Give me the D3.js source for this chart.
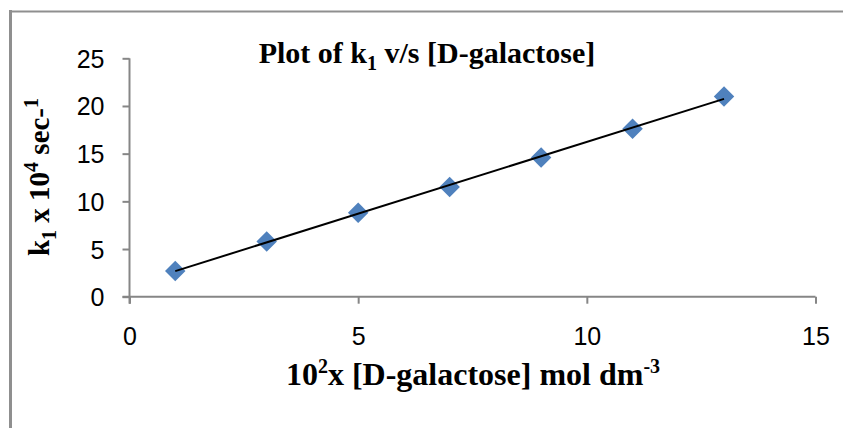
<!DOCTYPE html>
<html>
<head>
<meta charset="utf-8">
<script src="https://cdn.jsdelivr.net/npm/d3@7"></script>
<style>
  html, body { margin: 0; padding: 0; background: #fff; }
  svg { display: block; }
</style>
</head>
<body>
<svg id="chart" width="843" height="428"></svg>
<script>
const xValues = [1, 3, 5, 7, 9, 11, 13];
const yValues = [2.7, 5.8, 8.8, 11.5, 14.6, 17.6, 21.0];
const xTicks = [0, 5, 10, 15];
const yTicks = [0, 5, 10, 15, 20, 25];

const svg = d3.select("#chart");
const W = 843, H = 428;

// frame
svg.append("line").attr("x1", 10.5).attr("x2", 10.5).attr("y1", 10).attr("y2", H)
  .attr("stroke", "#8f8f8f").attr("stroke-width", 3);
svg.append("line").attr("x1", 9).attr("x2", W).attr("y1", 11.5).attr("y2", 11.5)
  .attr("stroke", "#8f8f8f").attr("stroke-width", 2);

const x = d3.scaleLinear().domain([0, 15]).range([129.5, 815.5]);
const y = d3.scaleLinear().domain([0, 25]).range([296.7, 58.3]);

const axisColor = "#868686";
const tickFont = "'Liberation Sans', Arial, sans-serif";

const xAxis = svg.append("g").attr("transform", `translate(0,${y(0)})`)
  .call(d3.axisBottom(x).tickValues(xTicks).tickSize(7).tickPadding(24).tickSizeOuter(0).tickFormat(d3.format("d")));
const yAxis = svg.append("g").attr("transform", `translate(${x(0)},0)`)
  .call(d3.axisLeft(y).tickValues(yTicks).tickSize(7).tickPadding(18).tickSizeOuter(0).tickFormat(d3.format("d")));

[xAxis, yAxis].forEach(g => {
  g.select(".domain").attr("stroke", axisColor).attr("stroke-width", 2);
  g.selectAll(".tick line").attr("stroke", axisColor).attr("stroke-width", 2);
  g.selectAll(".tick text").attr("fill", "#000").style("font-family", tickFont).style("font-size", "25px");
});
xAxis.select(".domain").attr("d", `M${x(0) - 7},0H${x(15)}`);
xAxis.selectAll(".tick text").attr("dy", "0.71em");
yAxis.select(".domain").attr("d", `M0,${y(25)}V${y(0) + 7}`);
yAxis.selectAll(".tick text").attr("dy", "0.36em");

// trend line (least squares)
const mx = d3.mean(xValues), my = d3.mean(yValues);
let sxy = 0, sxx = 0;
xValues.forEach((v, i) => { sxy += (v - mx) * (yValues[i] - my); sxx += (v - mx) * (v - mx); });
const slope = sxy / sxx, intercept = my - slope * mx;
const x0 = d3.min(xValues), x1 = d3.max(xValues);

// markers
const diamond = d3.symbol().type(d3.symbolSquare).size(210);
svg.append("g").selectAll("path").data(xValues).join("path")
  .attr("d", diamond)
  .attr("transform", (d, i) => `translate(${x(d)},${y(yValues[i])}) rotate(45)`)
  .attr("fill", "#4f81bd");

svg.append("line")
  .attr("x1", x(x0)).attr("y1", y(slope * x0 + intercept))
  .attr("x2", x(x1)).attr("y2", y(slope * x1 + intercept))
  .attr("stroke", "#000").attr("stroke-width", 2);

const serif = "'Liberation Serif', 'Times New Roman', serif";

// title
const title = svg.append("text").attr("x", 427).attr("y", 63).attr("text-anchor", "middle")
  .style("font-family", serif).style("font-size", "30px").style("font-weight", "bold");
title.append("tspan").text("Plot of k");
title.append("tspan").text("1").attr("dy", 7).style("font-size", "20px");
title.append("tspan").text(" v/s [D-galactose]").attr("dy", -7);

// x title
const xt = svg.append("text").attr("x", 473).attr("y", 385).attr("text-anchor", "middle")
  .style("font-family", serif).style("font-size", "32px").style("font-weight", "bold");
xt.append("tspan").text("10");
xt.append("tspan").text("2").attr("dy", -12).style("font-size", "20px");
xt.append("tspan").text("x [D-galactose] mol dm").attr("dy", 12);
xt.append("tspan").text("-3").attr("dy", -12).style("font-size", "20px");

// y title
const yt = svg.append("text").attr("transform", "translate(49,177) rotate(-90)").attr("text-anchor", "middle")
  .style("font-family", serif).style("font-size", "29px").style("font-weight", "bold");
yt.append("tspan").text("k");
yt.append("tspan").text("1").attr("dy", 7).style("font-size", "20px");
yt.append("tspan").text(" x 10").attr("dy", -7);
yt.append("tspan").text("4").attr("dy", -11).style("font-size", "20px");
yt.append("tspan").text(" sec-").attr("dy", 11);
yt.append("tspan").text("1").attr("dy", -11).style("font-size", "20px");
</script>
</body>
</html>
